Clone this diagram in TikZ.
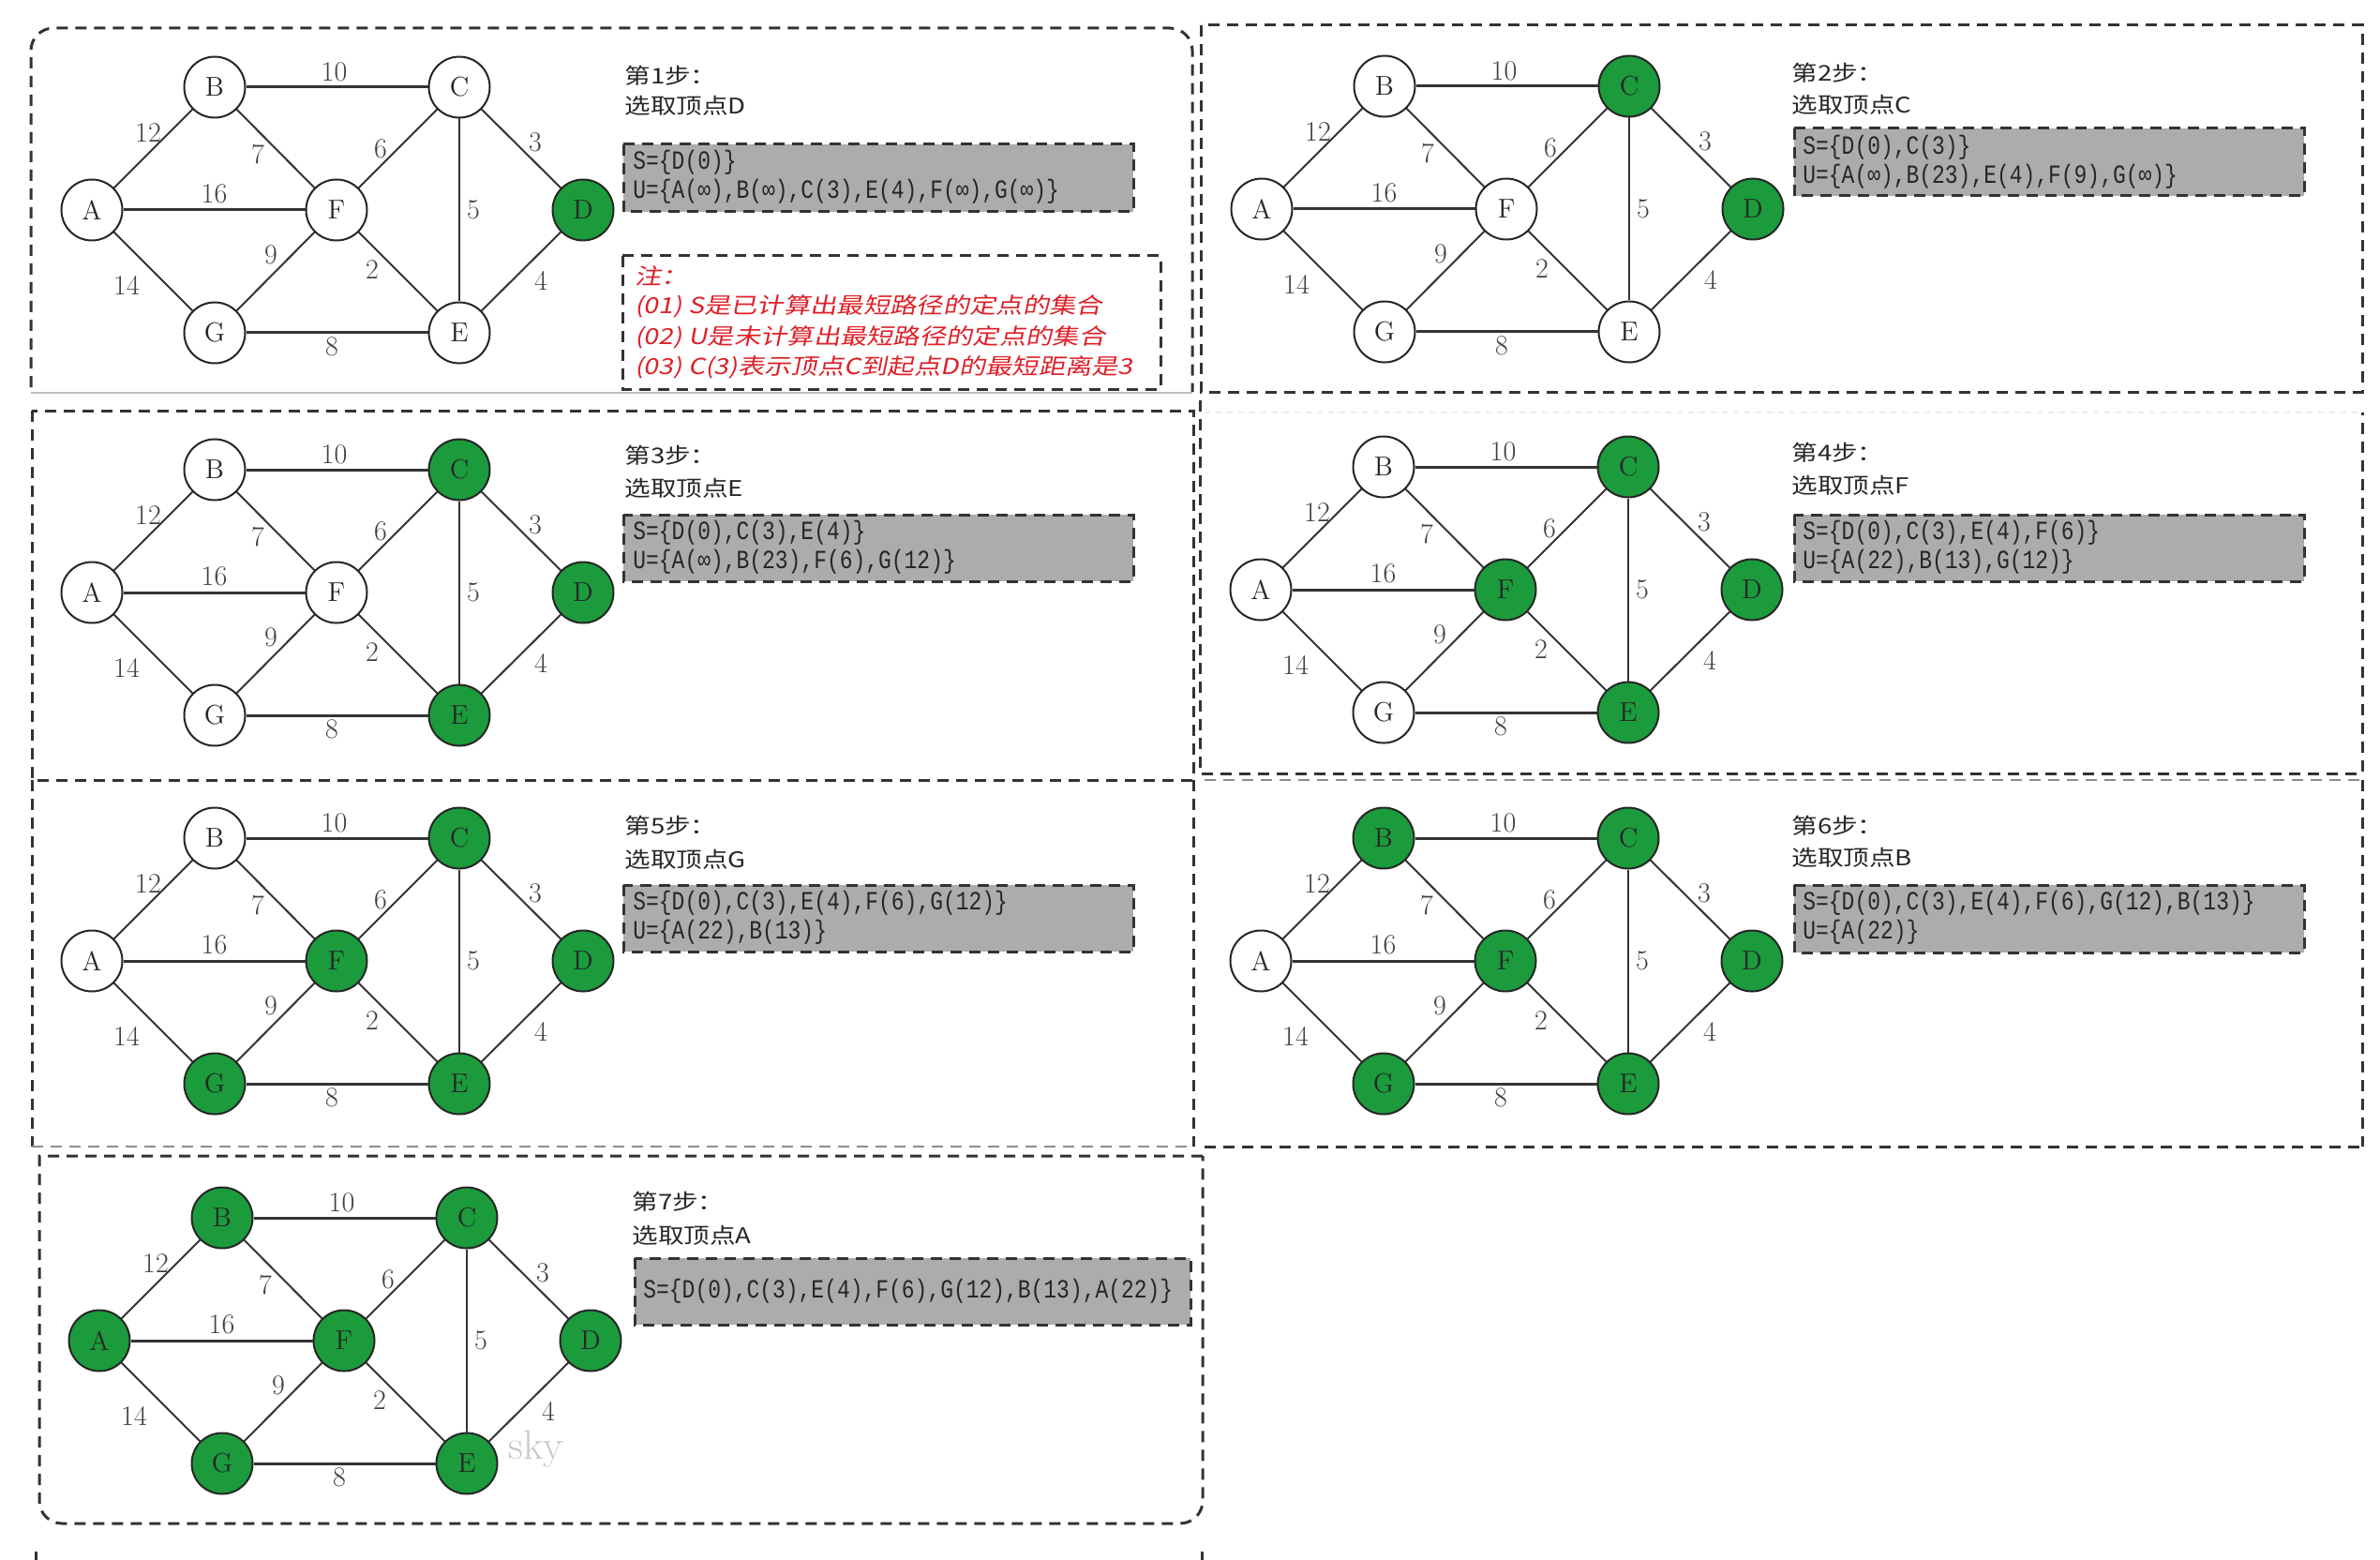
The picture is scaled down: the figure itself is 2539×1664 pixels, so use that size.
\documentclass[tikz,border=0pt]{standalone}
\usepackage{fontspec}
\newfontfamily\cjkfont[FakeStretch=1.2]{Noto Sans CJK SC}
\newfontfamily\cjkred[FakeStretch=1.2,FakeSlant=0.2]{Noto Sans CJK SC}
\newfontfamily\boxfont[FakeStretch=0.82]{Liberation Mono}
\definecolor{nodegreen}{RGB}{27,155,60}
\definecolor{boxgray}{RGB}{172,172,172}
\definecolor{notered}{RGB}{222,32,40}
\tikzset{
 vwhite/.style={circle, draw=black!85, line width=1pt, fill=white, minimum size=32.5pt, inner sep=0pt, font=\fontsize{14.5}{14.5}\selectfont, text=black!85},
 vgreen/.style={vwhite, fill=nodegreen},
 gedge/.style={draw=black!80, line width=1pt},
 hedge/.style={draw=black!80, line width=1.5pt},
 elbl/.style={font=\fontsize{15}{15}\selectfont, text=black!75, inner sep=0pt},
 pbox/.style={draw=black!80, line width=1.5pt, dash pattern=on 6pt off 4pt},
 pfaint/.style={draw=black!45, line width=1.2pt, dash pattern=on 6pt off 4pt},
 sbox/.style={fill=boxgray, draw=black!80, line width=1.5pt, dash pattern=on 6pt off 4pt},
 nbox/.style={draw=black!80, line width=1.5pt, dash pattern=on 6pt off 4pt},
 stxt/.style={anchor=west, inner sep=0pt, font=\boxfont\fontsize{14}{14}\selectfont, text=black!85},
 ttl/.style={anchor=west, inner sep=0pt, font=\cjkfont\fontsize{11.5}{11.5}\selectfont, text=black!85},
 rtxt/.style={anchor=west, inner sep=0pt, font=\cjkred\fontsize{11.8}{11.8}\selectfont, text=notered},
}
% #1 prefix, #2 shift, #3..#9 styles of A B C D E F G
\newcommand{\mygraph}[9]{%
\begin{scope}[shift={(#2)}]
\node[#3] (#1A) at (98,224) {A};
\node[#4] (#1B) at (229,93) {B};
\node[#5] (#1C) at (490,93) {C};
\node[#6] (#1D) at (622,224) {D};
\node[#7] (#1E) at (490,355) {E};
\node[#8] (#1F) at (359,224) {F};
\node[#9] (#1G) at (229,355) {G};
\draw[hedge] (#1B) -- node[elbl, shift={(-3,-16)}] {10} (#1C);
\draw[gedge] (#1A) -- node[elbl, shift={(-5.5,-16.5)}] {12} (#1B);
\draw[gedge] (#1B) -- node[elbl, shift={(-19,6.5)}] {7} (#1F);
\draw[gedge] (#1F) -- node[elbl, shift={(-18.5,0)}] {6} (#1C);
\draw[gedge] (#1C) -- node[elbl, shift={(15,-6.5)}] {3} (#1D);
\draw[hedge] (#1A) -- node[elbl, shift={(0,-17)}] {16} (#1F);
\draw[gedge] (#1C) -- node[elbl, shift={(15,0)}] {5} (#1E);
\draw[gedge] (#1G) -- node[elbl, shift={(-5,-17.5)}] {9} (#1F);
\draw[gedge] (#1F) -- node[elbl, shift={(-27.5,-1.5)}] {2} (#1E);
\draw[gedge] (#1A) -- node[elbl, shift={(-28.5,14.5)}] {14} (#1G);
\draw[gedge] (#1E) -- node[elbl, shift={(21,9.5)}] {4} (#1D);
\draw[hedge] (#1G) -- node[elbl, shift={(-5.5,15)}] {8} (#1E);
\end{scope}}
\begin{document}
\begin{tikzpicture}[x=0.5pt, y=-0.5pt]
\fill[white] (0,0) rectangle (2539,1664);
\useasboundingbox (0,0) rectangle (2539,1664);

% ---------- panel frames ----------
\draw[pbox, rounded corners=12pt] (33,413) -- (33,30) -- (1272,30) -- (1272,418);
\draw[draw=black!25, line width=0.6pt] (33,419) -- (1272,419);
\draw[pbox] (1281,27) rectangle (2520,418);
\draw[pbox] (34,438) rectangle (1273,832);
\draw[pbox] (1280,427) -- (1280,825) -- (2520,825) -- (2520,440);
\draw[draw=black!8, line width=0.6pt, dash pattern=on 3pt off 3pt] (1285,440) -- (2520,440);
\draw[pbox] (34,832) -- (34,1223);
\draw[pbox] (1273,832) -- (1273,1223);
\draw[pfaint] (34,1223) -- (1273,1223);
\draw[pfaint] (1285,832) -- (2520,832);
\draw[pbox] (2520,832) -- (2520,1223);
\draw[pbox] (1285,1223) -- (2520,1223);
\draw[pbox] (1283,1233) -- (42,1233) [rounded corners=12pt] -- (42,1625) -- (1283,1625) -- (1283,1233);
\draw[draw=black!80, line width=1.5pt] (38,1655) -- (38,1664);
\draw[draw=black!80, line width=1.5pt] (1282,1655) -- (1282,1664);

% ---------- graphs ----------
\mygraph{pa}{0,0}{vwhite}{vwhite}{vwhite}{vgreen}{vwhite}{vwhite}{vwhite}
\mygraph{pb}{1248,-1}{vwhite}{vwhite}{vgreen}{vgreen}{vwhite}{vwhite}{vwhite}
\mygraph{pc}{0,408}{vwhite}{vwhite}{vgreen}{vgreen}{vgreen}{vwhite}{vwhite}
\mygraph{pd}{1247,405}{vwhite}{vwhite}{vgreen}{vgreen}{vgreen}{vgreen}{vwhite}
\mygraph{pe}{0,801}{vwhite}{vwhite}{vgreen}{vgreen}{vgreen}{vgreen}{vgreen}
\mygraph{pf}{1247,801}{vwhite}{vgreen}{vgreen}{vgreen}{vgreen}{vgreen}{vgreen}
\mygraph{pg}{8,1206}{vgreen}{vgreen}{vgreen}{vgreen}{vgreen}{vgreen}{vgreen}

% ---------- step 1 ----------
\node[ttl] (t1a) at (666,81) {第1步：};
\node[ttl] (t1b) at (666,113) {选取顶点D};
\draw[sbox] (665,154) rectangle (1209,226);
\node[stxt] (s1) at (675,173) {S=\{D(0)\}};
\node[stxt] (u1) at (675,204) {U=\{A(∞),B(∞),C(3),E(4),F(∞),G(∞)\}};
\draw[nbox] (664,273) rectangle (1238,415);
\node[rtxt] (n0) at (677,294) {注：};
\node[rtxt] (n1) at (677,327) {(01) S是已计算出最短路径的定点的集合};
\node[rtxt] (n2) at (677,360) {(02) U是未计算出最短路径的定点的集合};
\node[rtxt] (n3) at (677,392) {(03) C(3)表示顶点C到起点D的最短距离是3};

% ---------- step 2 ----------
\node[ttl] (t2a) at (1911,78) {第2步：};
\node[ttl] (t2b) at (1911,112) {选取顶点C};
\draw[sbox] (1914,137) rectangle (2458,209);
\node[stxt] (s2) at (1923,157) {S=\{D(0),C(3)\}};
\node[stxt] (u2) at (1923,188) {U=\{A(∞),B(23),E(4),F(9),G(∞)\}};

% ---------- step 3 ----------
\node[ttl] (t3a) at (666,486) {第3步：};
\node[ttl] (t3b) at (666,521) {选取顶点E};
\draw[sbox] (665,549) rectangle (1209,620);
\node[stxt] (s3) at (675,568) {S=\{D(0),C(3),E(4)\}};
\node[stxt] (u3) at (675,599) {U=\{A(∞),B(23),F(6),G(12)\}};

% ---------- step 4 ----------
\node[ttl] (t4a) at (1911,483) {第4步：};
\node[ttl] (t4b) at (1911,518) {选取顶点F};
\draw[sbox] (1914,549) rectangle (2458,620);
\node[stxt] (s4) at (1923,568) {S=\{D(0),C(3),E(4),F(6)\}};
\node[stxt] (u4) at (1923,599) {U=\{A(22),B(13),G(12)\}};

% ---------- step 5 ----------
\node[ttl] (t5a) at (666,881) {第5步：};
\node[ttl] (t5b) at (666,917) {选取顶点G};
\draw[sbox] (665,944) rectangle (1209,1015);
\node[stxt] (s5) at (675,963) {S=\{D(0),C(3),E(4),F(6),G(12)\}};
\node[stxt] (u5) at (675,994) {U=\{A(22),B(13)\}};

% ---------- step 6 ----------
\node[ttl] (t6a) at (1911,881) {第6步：};
\node[ttl] (t6b) at (1911,915) {选取顶点B};
\draw[sbox] (1914,944) rectangle (2458,1016);
\node[stxt] (s6) at (1923,963) {S=\{D(0),C(3),E(4),F(6),G(12),B(13)\}};
\node[stxt] (u6) at (1923,994) {U=\{A(22)\}};

% ---------- step 7 ----------
\node[ttl] (t7a) at (674,1282) {第7步：};
\node[ttl] (t7b) at (674,1318) {选取顶点A};
\draw[sbox] (677,1342) rectangle (1270,1413);
\node[stxt] (s7) at (686,1377) {S=\{D(0),C(3),E(4),F(6),G(12),B(13),A(22)\}};

% watermark
\node[font=\fontsize{22}{22}\selectfont, text=black!22, inner sep=0pt] (wm) at (572,1546) {sky};
\end{tikzpicture}
\end{document}
